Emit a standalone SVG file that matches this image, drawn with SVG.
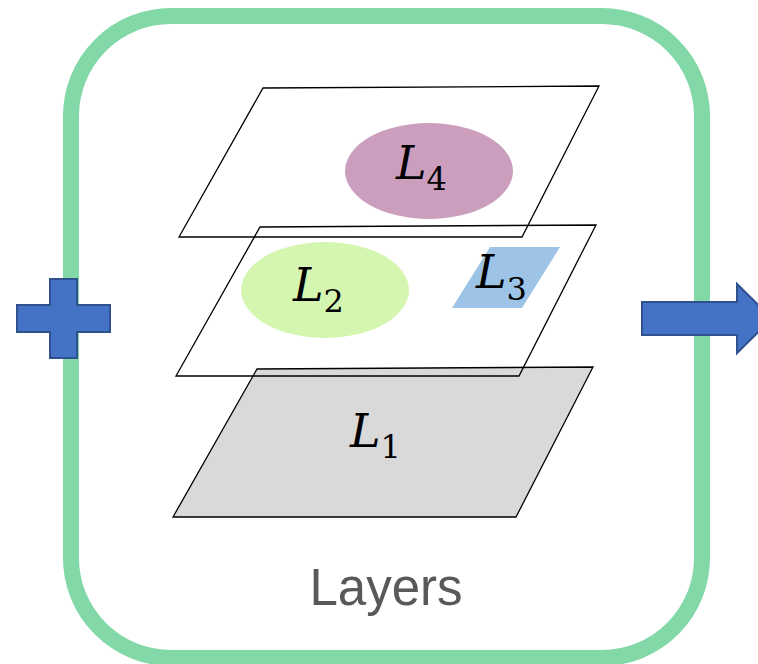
<svg xmlns="http://www.w3.org/2000/svg" width="758" height="664" viewBox="0 0 758 664">
<style>
.plane{fill:none;stroke:#000;stroke-width:1.3}
.math{font-family:"DejaVu Serif","Liberation Serif",serif;font-style:italic;font-size:46px;fill:#000}
.sub{font-style:normal;font-size:32px}
.shape{fill:#4472C4;stroke:#2F528F;stroke-width:2}
</style>
<rect width="758" height="664" fill="#fff"/>
<g id="container">
<rect x="71" y="16" width="631" height="642" rx="100" ry="100" fill="none" stroke="#82D8A7" stroke-width="16"/>
<text x="386" y="605" text-anchor="middle" font-family="Liberation Sans, Arial, sans-serif" font-size="51" fill="#595959">Layers</text>
</g>
<g id="plus">
<path class="shape" d="M50,279 H77 V305 H110 V332 H77 V358 H50 V332 H17 V305 H50 Z"/>
</g>
<g id="arrow">
<path class="shape" d="M642,302 H737 V284 L772,318.5 L737,353 V335 H642 Z"/>
</g>
<g id="L1">
<polygon points="257,369 593,367 516,517 173,517" fill="#D9D9D9" stroke="#000" stroke-width="1.3"/>
<text class="math" x="350" y="447">L<tspan class="sub" dy="11">1</tspan></text>
</g>
<g id="layer2plane">
<polygon class="plane" points="260,227 596,225 519,376 176,376"/>
</g>
<g id="L2">
<ellipse cx="325" cy="290" rx="84" ry="48" fill="#D5F6B0"/>
<text class="math" x="293" y="301">L<tspan class="sub" dy="11">2</tspan></text>
</g>
<g id="L3">
<polygon points="490,247 560,247 522,308 452,308" fill="#9DC3E6"/>
<text class="math" x="476" y="288">L<tspan class="sub" dy="12">3</tspan></text>
</g>
<g id="layer4plane">
<polygon class="plane" points="263,88 599,86 522,237 179,237"/>
</g>
<g id="L4">
<ellipse cx="429" cy="171" rx="84" ry="48" fill="#CC9EBD"/>
<text class="math" x="396" y="179">L<tspan class="sub" dy="11">4</tspan></text>
</g>
<g id="connectors"></g>
</svg>
